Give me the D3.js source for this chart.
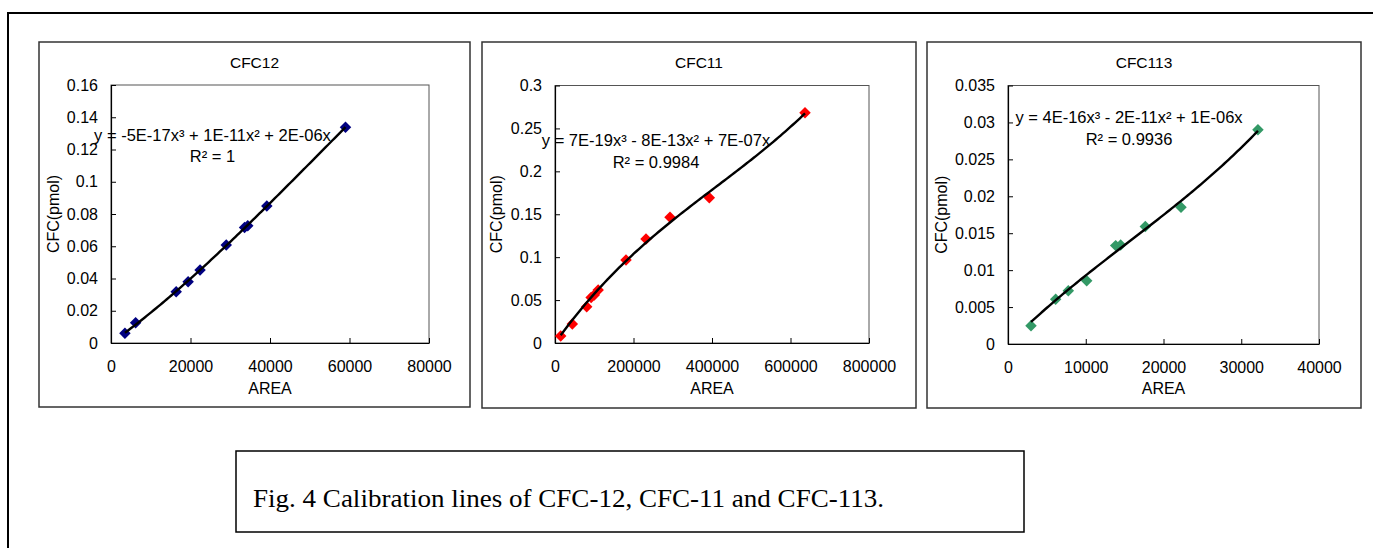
<!DOCTYPE html>
<html><head><meta charset="utf-8">
<script src="https://cdn.jsdelivr.net/npm/d3@7"></script>
<style>
body{margin:0;background:#fff}
svg{display:block}
text{font-family:Arial,"Liberation Sans",sans-serif;fill:#000}
</style>
</head><body>
<svg id="c" width="1373" height="548"></svg>
<script>
// ---------- data ----------
const chartTitles = ["CFC12", "CFC11", "CFC113"];

const cfc12Area = [3500, 6200, 16400, 19400, 22400, 29000, 33600, 34400, 39200, 59000];
const cfc12Pmol = [0.006, 0.0126, 0.0318, 0.038, 0.0453, 0.0608, 0.0716, 0.0727, 0.085, 0.1338];

const cfc11Area = [14500, 44100, 80700, 92000, 100000, 110000, 180900, 231900, 293000, 393200, 637000];
const cfc11Pmol = [0.0082, 0.0221, 0.0423, 0.053, 0.056, 0.0617, 0.0967, 0.1212, 0.1464, 0.1693, 0.2683];

const cfc113Area = [2960, 6130, 7760, 10120, 13850, 14490, 17660, 22250, 32150];
const cfc113Pmol = [0.00248, 0.00605, 0.00722, 0.00858, 0.01332, 0.01341, 0.0159, 0.01852, 0.029];

const cfc12XTicks = [0, 20000, 40000, 60000, 80000];
const cfc12YTicks = [0, 0.02, 0.04, 0.06, 0.08, 0.1, 0.12, 0.14, 0.16];
const cfc11XTicks = [0, 200000, 400000, 600000, 800000];
const cfc11YTicks = [0, 0.05, 0.1, 0.15, 0.2, 0.25, 0.3];
const cfc113XTicks = [0, 10000, 20000, 30000, 40000];
const cfc113YTicks = [0, 0.005, 0.01, 0.015, 0.02, 0.025, 0.03, 0.035];

const equations = [
  "y = -5E-17x\u00B3 + 1E-11x\u00B2 + 2E-06x",
  "y = 7E-19x\u00B3 - 8E-13x\u00B2 + 7E-07x",
  "y = 4E-16x\u00B3 - 2E-11x\u00B2 + 1E-06x"
];
const rSquared = ["R\u00B2 = 1", "R\u00B2 = 0.9984", "R\u00B2 = 0.9936"];
const seriesColors = ["#000080", "#FF0000", "#339966"];
const xAxisTitle = "AREA";
const yAxisTitle = "CFC(pmol)";
const caption = "Fig. 4 Calibration lines of CFC-12, CFC-11 and CFC-113.";

// ---------- layout ----------
const panels = [
  {title: chartTitles[0], xs: cfc12Area, ys: cfc12Pmol, xt: cfc12XTicks, yt: cfc12YTicks, eq: equations[0], r2: rSquared[0], color: seriesColors[0],
   box: [39, 42, 470, 407], plot: [111, 85, 429, 343], eqX: 212.5, eqY: 141, r2Y: 162},
  {title: chartTitles[1], xs: cfc11Area, ys: cfc11Pmol, xt: cfc11XTicks, yt: cfc11YTicks, eq: equations[1], r2: rSquared[1], color: seriesColors[1],
   box: [482, 42, 916, 408], plot: [555, 85.5, 869, 343], eqX: 656, eqY: 145.5, r2Y: 167.5},
  {title: chartTitles[2], xs: cfc113Area, ys: cfc113Pmol, xt: cfc113XTicks, yt: cfc113YTicks, eq: equations[2], r2: rSquared[2], color: seriesColors[2],
   box: [927, 42, 1361, 408], plot: [1008, 85.5, 1319, 344], eqX: 1129, eqY: 123.3, r2Y: 145}
];

const svg = d3.select("#c");

// outer frame (continues past the right and bottom edges)
svg.append("rect").attr("x", 8).attr("y", 13).attr("width", 1500).attr("height", 700)
  .attr("fill", "none").attr("stroke", "#000").attr("stroke-width", 2);

// least-squares cubic through the origin: y = a x^3 + b x^2 + c x
function cubicFit(xs, ys) {
  const s = d3.max(xs);
  const M = [[0,0,0],[0,0,0],[0,0,0]], v = [0,0,0];
  xs.forEach((x, i) => {
    const u = x / s, f = [u*u*u, u*u, u];
    for (let r = 0; r < 3; r++) {
      v[r] += f[r] * ys[i];
      for (let k = 0; k < 3; k++) M[r][k] += f[r] * f[k];
    }
  });
  for (let i = 0; i < 3; i++) {
    let p = i;
    for (let r = i + 1; r < 3; r++) if (Math.abs(M[r][i]) > Math.abs(M[p][i])) p = r;
    [M[i], M[p]] = [M[p], M[i]]; [v[i], v[p]] = [v[p], v[i]];
    for (let r = i + 1; r < 3; r++) {
      const f = M[r][i] / M[i][i];
      for (let k = i; k < 3; k++) M[r][k] -= f * M[i][k];
      v[r] -= f * v[i];
    }
  }
  const c = [0,0,0];
  for (let i = 2; i >= 0; i--) {
    let t = v[i];
    for (let k = i + 1; k < 3; k++) t -= M[i][k] * c[k];
    c[i] = t / M[i][i];
  }
  return x => { const u = x / s; return c[0]*u*u*u + c[1]*u*u + c[2]*u; };
}

panels.forEach(p => {
  const [bx0, by0, bx1, by1] = p.box;
  const [px0, py0, px1, py1] = p.plot;
  const g = svg.append("g");

  g.append("rect").attr("x", bx0).attr("y", by0).attr("width", bx1 - bx0).attr("height", by1 - by0)
    .attr("fill", "#fff").attr("stroke", "#333").attr("stroke-width", 1.5);

  const x = d3.scaleLinear().domain([0, d3.max(p.xt)]).range([px0, px1]);
  const y = d3.scaleLinear().domain([0, d3.max(p.yt)]).range([py1, py0]);

  g.append("rect").attr("x", px0).attr("y", py0).attr("width", px1 - px0).attr("height", py1 - py0)
    .attr("fill", "none").attr("stroke", "#555").attr("stroke-width", 1);

  const xa = g.append("g").attr("transform", `translate(0,${py1})`)
    .call(d3.axisBottom(x).tickValues(p.xt).tickFormat(d => String(d)).tickSizeInner(-5).tickSizeOuter(0).tickPadding(18));
  const ya = g.append("g").attr("transform", `translate(${px0},0)`)
    .call(d3.axisLeft(y).tickValues(p.yt).tickFormat(d => String(d)).tickSizeInner(-5).tickSizeOuter(0).tickPadding(13));
  [xa, ya].forEach(a => {
    a.selectAll("path.domain").attr("stroke", "#000").attr("stroke-width", 1.2);
    a.selectAll(".tick line").attr("stroke", "#000");
    a.selectAll("text").style("font-size", "16px").style("font-family", "Arial, 'Liberation Sans', sans-serif").attr("fill", "#000");
  });

  g.append("text").attr("x", (bx0 + bx1) / 2).attr("y", 68).attr("text-anchor", "middle")
    .style("font-size", "15.5px").text(p.title);
  g.append("text").attr("x", (px0 + px1) / 2).attr("y", 394).attr("text-anchor", "middle")
    .style("font-size", "16px").text(xAxisTitle);
  g.append("text").attr("transform", `translate(${bx0 + 20},${(py0 + py1) / 2}) rotate(-90)`)
    .attr("text-anchor", "middle").style("font-size", "16px").text(yAxisTitle);

  const pts = p.xs.map((v, i) => [v, p.ys[i]]);
  g.selectAll("path.pt").data(pts).enter().append("path").attr("class", "pt")
    .attr("d", d3.symbol().type(d3.symbolSquare).size(66))
    .attr("transform", d => `translate(${x(d[0])},${y(d[1])}) rotate(45)`)
    .attr("fill", p.color);

  const f = cubicFit(p.xs, p.ys);
  const xmin = d3.min(p.xs), xmax = d3.max(p.xs);
  const curve = d3.range(0, 101).map(i => { const xv = xmin + (xmax - xmin) * i / 100; return [xv, f(xv)]; });
  g.append("path").datum(curve)
    .attr("d", d3.line().x(d => x(d[0])).y(d => y(d[1])))
    .attr("fill", "none").attr("stroke", "#000").attr("stroke-width", 2.4);

  g.append("text").attr("x", p.eqX).attr("y", p.eqY).attr("text-anchor", "middle")
    .style("font-size", "16.5px").text(p.eq);
  g.append("text").attr("x", p.eqX).attr("y", p.r2Y).attr("text-anchor", "middle")
    .style("font-size", "16.5px").text(p.r2);
});

svg.append("rect").attr("x", 236).attr("y", 451).attr("width", 788).attr("height", 81)
  .attr("fill", "#fff").attr("stroke", "#000").attr("stroke-width", 1.5);
svg.append("text").attr("x", 253).attr("y", 507)
  .style("font-family", "'Liberation Serif', 'Times New Roman', serif").style("font-size", "25px")
  .attr("textLength", 631).attr("lengthAdjust", "spacingAndGlyphs")
  .text(caption);
</script>
</body></html>
